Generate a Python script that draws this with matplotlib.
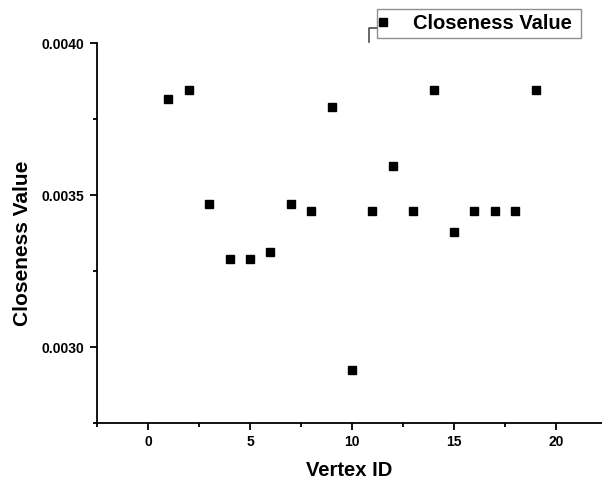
import matplotlib
matplotlib.use('Agg')
import matplotlib.pyplot as plt
from matplotlib.ticker import MultipleLocator, FormatStrFormatter
from matplotlib.lines import Line2D

plt.rcParams['font.family'] = ['Liberation Sans', 'DejaVu Sans']
plt.rcParams['font.weight'] = 'bold'

# closeness of each vertex
vertex_id = [1, 2, 3, 4, 5, 6, 7, 8, 9, 10, 11, 12, 13, 14, 15, 16, 17, 18, 19]
closeness = [0.003817, 0.003846, 0.003472, 0.003289, 0.003289, 0.003311, 0.003472,
             0.003448, 0.003788, 0.002924, 0.003448, 0.003597, 0.003448, 0.003846,
             0.003378, 0.003448, 0.003448, 0.003448, 0.003846]
series_name = 'Closeness Value'

W, H = 602, 479
fig = plt.figure(figsize=(W/100, H/100), dpi=100)
ax = fig.add_axes([97/W, 56/H, 1 - 97/W, 380/H])

ax.plot(vertex_id, closeness, 's', color='black', markersize=6, label=series_name)

ax.set_xlim(-2.5, 22.26)
ax.set_ylim(0.00275, 0.0040)
ax.xaxis.set_major_locator(MultipleLocator(5))
ax.xaxis.set_minor_locator(MultipleLocator(2.5))
ax.yaxis.set_major_locator(MultipleLocator(0.0005))
ax.yaxis.set_minor_locator(MultipleLocator(0.00025))
ax.yaxis.set_major_formatter(FormatStrFormatter('%.4f'))

for s in ['top', 'right']:
    ax.spines[s].set_visible(False)
for s in ['left', 'bottom']:
    ax.spines[s].set_linewidth(1.3)
    ax.spines[s].set_clip_on(False)

ax.tick_params(which='major', direction='out', length=5, width=1.3, labelsize=10, pad=4)
ax.tick_params(which='minor', direction='out', length=3, width=1.3)
for t in ax.get_xticklabels() + ax.get_yticklabels():
    t.set_fontweight('bold')

ax.set_xlabel('Vertex ID', fontsize=14.5, fontweight='bold', labelpad=8)
ax.set_ylabel('Closeness Value', fontsize=15, fontweight='bold')
ax.yaxis.set_label_coords((32 - 97) / 505, (423 - 243.5) / 380)

leg = fig.legend(loc='lower left', bbox_to_anchor=(377/W, (H-38)/H, 204/W, 27/H),
                 mode='expand', borderaxespad=0, fancybox=False,
                 handlelength=0.1, handletextpad=1.45, borderpad=0.25,
                 prop={'weight': 'bold', 'size': 14.5})
leg.get_frame().set_edgecolor('0.45')
leg.get_frame().set_linewidth(1.0)

fig.add_artist(Line2D([369/W, 369/W, 377/W], [(H-42)/H, (H-28)/H, (H-28)/H],
                      color='0.3', linewidth=1.2, transform=fig.transFigure))

fig.savefig('out.png', dpi=100)
